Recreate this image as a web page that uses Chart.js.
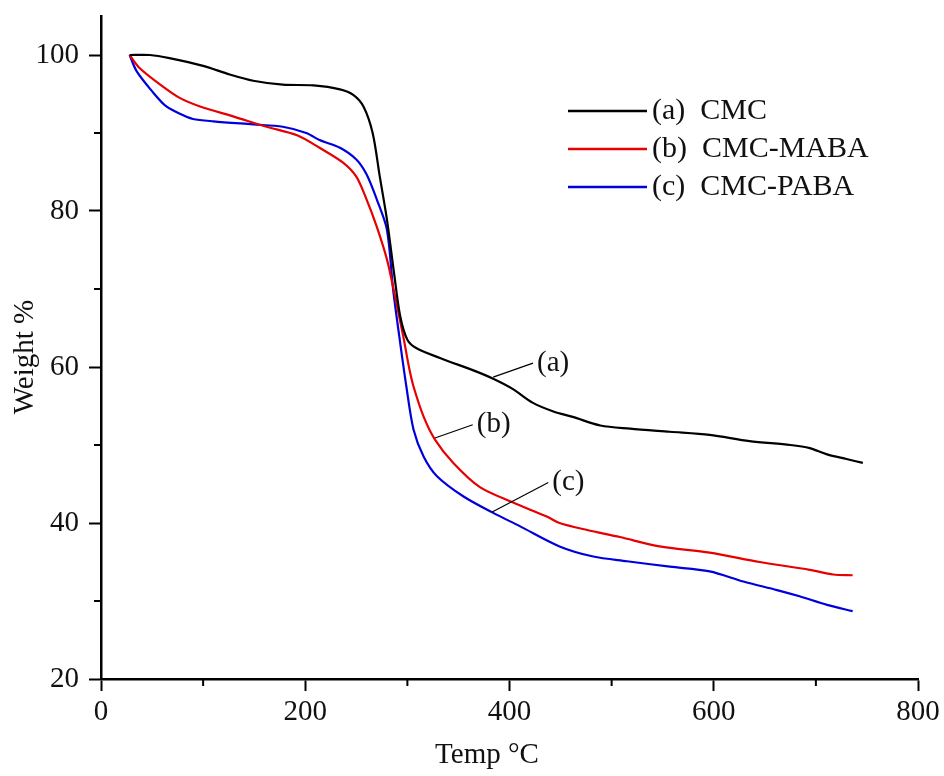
<!DOCTYPE html>
<html>
<head>
<meta charset="utf-8">
<script src="https://cdn.jsdelivr.net/npm/chart.js@4/dist/chart.umd.min.js"></script>
<style>
  body { margin: 0; background: #fff; }
  #wrap { width: 944px; height: 776px; }
</style>
</head>
<body>
<div id="wrap"><canvas id="myChart" width="944" height="776"></canvas></div>
<script>
// CMC
const cmcTemp = [28, 48, 67, 100, 126, 149, 178, 208, 234, 247, 257, 266, 273, 280, 287, 293, 300, 309, 335, 364, 384, 403, 423, 443, 462, 489, 518, 557, 596, 635, 675, 694, 711, 730, 746];
const cmcWeight = [100, 100, 99.6, 98.6, 97.5, 96.7, 96.2, 96.1, 95.6, 94.9, 93.4, 90.0, 84.4, 78.9, 72.0, 66.5, 63.5, 62.4, 61.0, 59.6, 58.5, 57.2, 55.4, 54.3, 53.6, 52.5, 52.1, 51.7, 51.3, 50.5, 50.0, 49.6, 48.8, 48.2, 47.7];

// CMC-MABA
const mabaTemp = [28, 38, 58, 77, 97, 130, 162, 192, 214, 237, 250, 260, 270, 280, 288, 296, 302, 306, 316, 327, 345, 371, 404, 437, 449, 476, 508, 547, 596, 645, 694, 717, 736];
const mabaWeight = [100, 98.3, 96.2, 94.5, 93.4, 92.1, 90.8, 89.7, 88.1, 86.2, 84.4, 81.5, 78.0, 73.8, 69.0, 63.9, 59.7, 57.5, 53.6, 50.7, 47.7, 44.6, 42.6, 40.8, 40.0, 39.1, 38.2, 37.0, 36.2, 35.0, 34.0, 33.4, 33.3];

// CMC-PABA
const pabaTemp = [28, 35, 51, 64, 80, 90, 110, 149, 178, 201, 214, 234, 250, 260, 270, 280, 286, 292, 299, 306, 316, 329, 355, 384, 410, 449, 482, 515, 557, 596, 629, 662, 684, 711, 736];
const pabaWeight = [100, 97.9, 95.2, 93.4, 92.3, 91.8, 91.5, 91.1, 90.8, 90.0, 89.1, 88.1, 86.6, 84.7, 81.5, 77.6, 70.0, 64.0, 57.5, 52.0, 48.5, 46.0, 43.4, 41.3, 39.6, 37.0, 35.7, 35.1, 34.4, 33.8, 32.5, 31.4, 30.6, 29.5, 28.7];

const seriesLabels = ["(a)  CMC", "(b)  CMC-MABA", "(c)  CMC-PABA"];
const seriesColors = ["#000000", "#e60000", "#0000dc"];

const xMajorTicks = [0, 200, 400, 600, 800];
const xMinorTicks = [100, 300, 500, 700];
const yMajorTicks = [20, 40, 60, 80, 100];
const yMinorTicks = [30, 50, 70, 90];

// curve callouts: label, leader start (on curve), leader end
const callouts = [
  { text: "(a)", from: [384, 58.7], to: [423, 60.5] },
  { text: "(b)", from: [327, 50.9], to: [364, 52.6] },
  { text: "(c)", from: [383, 41.4], to: [438, 45.2] }
];

const FONT = "Liberation Serif, 'Times New Roman', serif";

function toPoints(xs, ys) {
  return xs.map((x, i) => ({ x: x, y: ys[i] }));
}

function noPadding(axis) {
  axis.paddingTop = 0;
  axis.paddingBottom = 0;
  axis.paddingLeft = 0;
  axis.paddingRight = 0;
}

const extras = {
  id: "extras",
  afterDraw(chart) {
    const ctx = chart.ctx;
    const xs = chart.scales.x;
    const ys = chart.scales.y;
    const area = chart.chartArea;
    ctx.save();

    // minor ticks
    ctx.strokeStyle = "#000";
    ctx.lineWidth = 2;
    ctx.beginPath();
    xMinorTicks.forEach(v => {
      const px = xs.getPixelForValue(v);
      ctx.moveTo(px, area.bottom);
      ctx.lineTo(px, area.bottom + 7);
    });
    yMinorTicks.forEach(v => {
      const py = ys.getPixelForValue(v);
      ctx.moveTo(area.left, py);
      ctx.lineTo(area.left - 7, py);
    });
    ctx.stroke();

    // callouts
    ctx.fillStyle = "#111";
    ctx.font = "29px " + FONT;
    ctx.textBaseline = "middle";
    ctx.textAlign = "left";
    ctx.lineWidth = 1.2;
    callouts.forEach(c => {
      const x1 = xs.getPixelForValue(c.from[0]), y1 = ys.getPixelForValue(c.from[1]);
      const x2 = xs.getPixelForValue(c.to[0]), y2 = ys.getPixelForValue(c.to[1]);
      ctx.beginPath();
      ctx.moveTo(x1, y1);
      ctx.lineTo(x2, y2);
      ctx.stroke();
      ctx.fillText(c.text, x2 + 4, y2);
    });

    // legend
    chart.data.datasets.forEach((ds, i) => {
      const y = 111 + i * 38;
      ctx.strokeStyle = ds.borderColor;
      ctx.lineWidth = 2.5;
      ctx.beginPath();
      ctx.moveTo(568, y);
      ctx.lineTo(647, y);
      ctx.stroke();
      ctx.fillStyle = "#111";
      ctx.font = "30px " + FONT;
      ctx.fillText(ds.label, 652, y);
    });

    // axis titles
    ctx.font = "29px " + FONT;
    ctx.textAlign = "center";
    ctx.fillText("Temp °C", 487, 755);
    ctx.translate(25, 357);
    ctx.rotate(-Math.PI / 2);
    ctx.fillText("Weight %", 0, 0);
    ctx.restore();
  }
};

const ctx = document.getElementById("myChart").getContext("2d");

new Chart(ctx, {
  type: "line",
  data: {
    datasets: [
      { label: seriesLabels[0], data: toPoints(cmcTemp, cmcWeight), borderColor: seriesColors[0] },
      { label: seriesLabels[1], data: toPoints(mabaTemp, mabaWeight), borderColor: seriesColors[1] },
      { label: seriesLabels[2], data: toPoints(pabaTemp, pabaWeight), borderColor: seriesColors[2] }
    ]
  },
  options: {
    responsive: false,
    animation: false,
    layout: { padding: { top: 16, right: 26, left: 0, bottom: 0 } },
    elements: {
      point: { radius: 0 },
      line: { borderWidth: 2.2, tension: 0.3, fill: false }
    },
    plugins: {
      legend: { display: false },
      tooltip: { enabled: false }
    },
    scales: {
      x: {
        type: "linear",
        min: 0,
        max: 800,
        afterBuildTicks: axis => { axis.ticks = xMajorTicks.map(v => ({ value: v })); },
        afterFit: axis => { axis.height = 97; noPadding(axis); },
        grid: { display: true, drawOnChartArea: false, drawTicks: true, tickLength: 12, tickColor: "#000", tickWidth: 2 },
        border: { display: true, color: "#000", width: 2.5 },
        ticks: { color: "#111", font: { family: FONT, size: 29 }, padding: 4, maxRotation: 0 }
      },
      y: {
        min: 20,
        max: 105,
        afterBuildTicks: axis => { axis.ticks = yMajorTicks.map(v => ({ value: v })); },
        afterFit: axis => { axis.width = 101; noPadding(axis); },
        grid: { display: true, drawOnChartArea: false, drawTicks: true, tickLength: 12, tickColor: "#000", tickWidth: 2 },
        border: { display: true, color: "#000", width: 2.5 },
        ticks: { color: "#111", font: { family: FONT, size: 29 }, padding: 10 }
      }
    }
  },
  plugins: [extras]
});
</script>
</body>
</html>
